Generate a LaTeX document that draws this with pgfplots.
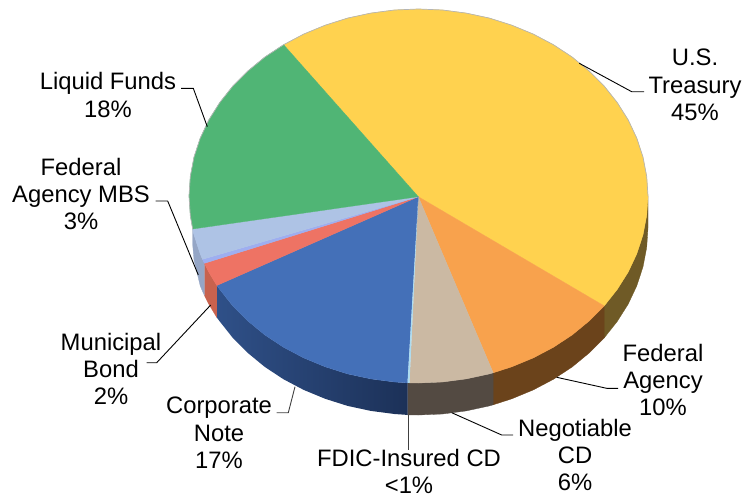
\documentclass[border=0pt]{standalone}
\usepackage{fontspec}
\setmainfont{Liberation Sans}
\usepackage{pgfplots}
\pgfplotsset{compat=1.18}
\definecolor{cYel}{HTML}{FFD24F}
\definecolor{cGrn}{HTML}{50B575}
\definecolor{cLbl}{HTML}{AEC3E5}
\definecolor{cPer}{HTML}{9EAEF0}
\definecolor{cRed}{HTML}{EE7364}
\definecolor{cBlu}{HTML}{4470B8}
\definecolor{cTan}{HTML}{CBB9A3}
\definecolor{cOrg}{HTML}{F8A24D}
\definecolor{cSli}{HTML}{ADDCF0}
\definecolor{sYel}{HTML}{6F5A26}
\definecolor{sOrg}{HTML}{6B431B}
\definecolor{sTan}{HTML}{534A42}
\definecolor{sBluL}{HTML}{2F5088}
\definecolor{sBluR}{HTML}{1C3158}
\definecolor{sRed}{HTML}{C8624E}
\definecolor{sLbl}{HTML}{95A6C6}
\definecolor{cEdge}{HTML}{B5B5B5}
\begin{document}
\begin{tikzpicture}
\path[use as bounding box] (0,0) rectangle (744pt,496pt);
\begin{axis}[at={(0,0)},anchor=south west,scale only axis,width=744pt,height=496pt,
  xmin=0,xmax=744,ymin=0,ymax=496,y dir=reverse,hide axis,clip=false,
  every axis plot/.append style={line join=round}]
% sides
\addplot[fill=sYel,draw=sYel,line width=0.3pt] coordinates {(648,196)(646.7,215.5)(643,234.9)(636.8,253.8)(628.2,272.1)(617.2,289.5)(604.2,305.9)(604.2,337.9)(617.2,321.5)(628.2,304.1)(636.8,285.8)(643,266.9)(646.7,247.5)(648,228)} --cycle;
\addplot[fill=sOrg,draw=sOrg,line width=0.3pt] coordinates {(604.2,305.9)(589,321.1)(572.1,335)(553.4,347.3)(533.3,357.9)(511.8,366.8)(493.2,372.8)(493.2,404.8)(511.8,398.8)(533.3,389.9)(553.4,379.3)(572.1,367)(589,353.1)(604.2,337.9)} --cycle;
\addplot[fill=sTan,draw=sTan,line width=0.3pt] coordinates {(493.2,372.8)(489.4,373.9)(466.2,378.9)(442.5,382)(418.5,383)(407.5,382.9)(407.5,414.9)(418.5,415)(442.5,414)(466.2,410.9)(489.4,405.9)(493.2,404.8)} --cycle;
\addplot[draw=none,left color=sBluL,right color=sBluR] coordinates {(407.5,382.9)(394.5,382)(370.8,378.9)(347.6,373.9)(325.2,366.8)(303.7,357.9)(283.6,347.3)(264.9,335)(248,321.1)(232.8,305.9)(219.8,289.5)(216.8,285.5)(216.8,317.5)(219.8,321.5)(232.8,337.9)(248,353.1)(264.9,367)(283.6,379.3)(303.7,389.9)(325.2,398.8)(347.6,405.9)(370.8,410.9)(394.5,414)(407.5,414.9)} --cycle;
\addplot[fill=sRed,draw=sRed,line width=0.3pt] coordinates {(216.8,285.5)(208.8,272.1)(204.4,263.3)(204.4,295.3)(208.8,304.1)(216.8,317.5)} --cycle;
\addplot[fill=sLbl,draw=sLbl,line width=0.3pt] coordinates {(204.4,263.3)(202.5,259.3)(200.2,253.8)(194,234.9)(192.7,229)(192.7,245)(194,260)(200.2,285.8)(202.5,291.3)(204.4,295.3)} --cycle;
% top
\addplot[fill=cYel,draw=cYel,line width=0.3pt] coordinates {(418.3,196.7)(283.6,44.7)(303.7,34.1)(325.2,25.2)(347.6,18.1)(370.8,13.1)(394.5,10)(418.5,9)(442.5,10)(466.2,13.1)(489.4,18.1)(511.8,25.2)(533.3,34.1)(553.4,44.7)(572.1,57)(589,70.9)(604.2,86.1)(617.2,102.5)(628.2,119.9)(636.8,138.2)(643,157.1)(646.7,176.5)(648,196)(646.7,215.5)(643,234.9)(636.8,253.8)(628.2,272.1)(617.2,289.5)(604.2,305.9)} --cycle;
\addplot[fill=cOrg,draw=cOrg,line width=0.3pt] coordinates {(418.3,196.7)(604.2,305.9)(589,321.1)(572.1,335)(553.4,347.3)(533.3,357.9)(511.8,366.8)(493.2,372.8)} --cycle;
\addplot[fill=cTan,draw=cTan,line width=0.3pt] coordinates {(418.3,196.7)(493.2,372.8)(489.4,373.9)(466.2,378.9)(442.5,382)(418.5,383)(409.5,382.9)} --cycle;
\addplot[fill=cBlu,draw=cBlu,line width=0.3pt] coordinates {(418.3,196.7)(407.5,382.9)(394.5,382)(370.8,378.9)(347.6,373.9)(325.2,366.8)(303.7,357.9)(283.6,347.3)(264.9,335)(248,321.1)(232.8,305.9)(219.8,289.5)(216.8,285.5)} --cycle;
\addplot[fill=cSli,draw=none] coordinates {(418.3,196.7)(409.5,382.9)(407.5,382.9)} --cycle;
\addplot[fill=cRed,draw=cRed,line width=0.3pt] coordinates {(418.3,196.7)(216.8,285.5)(208.8,272.1)(204.4,263.3)} --cycle;
\addplot[fill=cPer,draw=cPer,line width=0.3pt] coordinates {(418.3,196.7)(204.4,263.3)(202.5,259.3)} --cycle;
\addplot[fill=cLbl,draw=cLbl,line width=0.3pt] coordinates {(418.3,196.7)(202.5,259.3)(200.2,253.8)(194,234.9)(192.7,229)} --cycle;
\addplot[fill=cGrn,draw=cGrn,line width=0.3pt] coordinates {(418.3,196.7)(192.7,229)(190.3,215.5)(189,196)(190.3,176.5)(194,157.1)(200.2,138.2)(208.8,119.9)(219.8,102.5)(232.8,86.1)(248,70.9)(264.9,57)(283.6,44.7)} --cycle;
% soft rim
\addplot[draw=cEdge,line width=0.7pt] coordinates {(192.7,229)(190.3,215.5)(189,196)(190.3,176.5)(194,157.1)(200.2,138.2)(208.8,119.9)(219.8,102.5)(232.8,86.1)(248,70.9)(264.9,57)(283.6,44.7)(303.7,34.1)(325.2,25.2)(347.6,18.1)(370.8,13.1)(394.5,10)(418.5,9)(442.5,10)(466.2,13.1)(489.4,18.1)(511.8,25.2)(533.3,34.1)(553.4,44.7)(572.1,57)(589,70.9)(604.2,86.1)(617.2,102.5)(628.2,119.9)(636.8,138.2)(643,157.1)(646.7,176.5)(648,196)};
% leaders
\addplot[draw=black,line width=0.9pt] coordinates {(181,88.3)(193.3,88.3)(207.3,126.7)};
\addplot[draw=black,line width=0.9pt] coordinates {(579.3,63.3)(631.7,91.7)(644,91.7)};
\addplot[draw=black,line width=0.9pt] coordinates {(556.7,377.3)(606.7,388.3)(618,388.3)};
\addplot[draw=black,line width=0.9pt] coordinates {(451.7,412.7)(501.7,435)(513,435)};
\addplot[draw=black!75,line width=0.9pt] coordinates {(408,415)(408,450)};
\addplot[draw=black!75,line width=0.9pt] coordinates {(295,386.7)(288.3,412.7)(276.7,412.7)};
\addplot[draw=black,line width=0.9pt] coordinates {(210.7,305)(156.7,362.7)(146.7,362.7)};
\addplot[draw=black,line width=0.9pt] coordinates {(155.7,201)(167.7,201)(198.3,275)};
% labels
\def\lab#1#2#3{\node[align=center,font=\fontsize{23.8}{27.3}\selectfont,inner sep=0pt] at (axis cs:#1,#2) {#3};}
\lab{695}{85}{U.S.\\Treasury\\45\%}
\lab{108}{95}{Liquid Funds\\18\%}
\lab{81}{194}{Federal\\Agency MBS\\3\%}
\lab{111}{369}{Municipal\\Bond\\2\%}
\lab{219}{433}{Corporate\\Note\\17\%}
\lab{409}{471.5}{FDIC-Insured CD\\<1\%}
\lab{575}{455}{Negotiable\\CD\\6\%}
\lab{663}{380}{Federal\\Agency\\10\%}
\end{axis}
\end{tikzpicture}
\end{document}
